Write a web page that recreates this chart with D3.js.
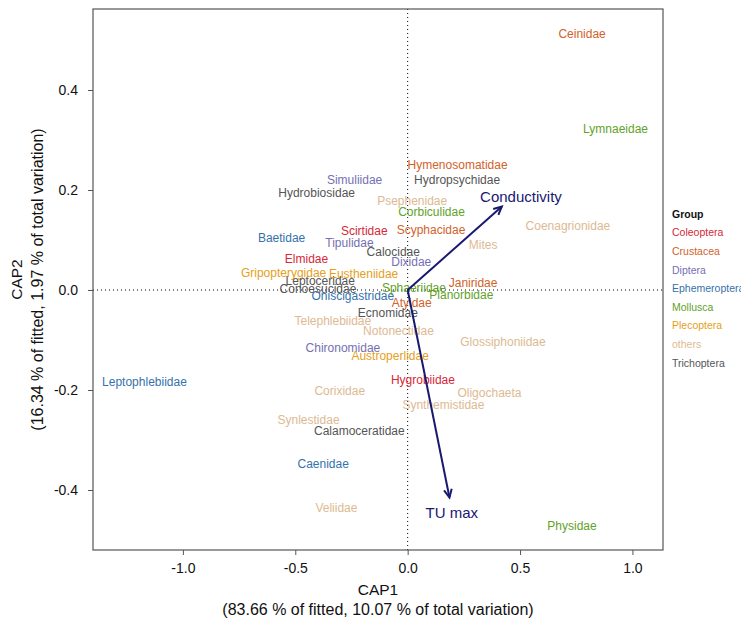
<!DOCTYPE html>
<html>
<head>
<meta charset="utf-8">
<script src="https://cdn.jsdelivr.net/npm/d3@7"></script>
<style>
  body { margin: 0; background: #fff; }
  svg text { font-family: "Liberation Sans", Arial, Helvetica, sans-serif; }
</style>
</head>
<body>
<svg id="chart" width="741" height="623"></svg>
<script>
// Taxon scores on the first two CAP axes
const taxa = [
  "Ceinidae", "Lymnaeidae", "Hymenosomatidae", "Hydropsychidae", "Simuliidae",
  "Hydrobiosidae", "Psephenidae", "Corbiculidae", "Coenagrionidae", "Scirtidae",
  "Scyphacidae", "Baetidae", "Tipulidae", "Mites", "Calocidae",
  "Elmidae", "Dixidae", "Gripopterygidae", "Eustheniidae", "Leptoceridae",
  "Conoesucidae", "Oniscigastridae", "Sphaeriidae", "Janiridae", "Planorbidae",
  "Atyidae", "Ecnomidae", "Telephlebiidae", "Notonectidae", "Glossiphoniidae",
  "Chironomidae", "Austroperlidae", "Leptophlebiidae", "Hygrobiidae", "Corixidae",
  "Oligochaeta", "Synthemistidae", "Synlestidae", "Calamoceratidae", "Caenidae",
  "Veliidae", "Physidae"
];
const taxonGroup = [
  "Crustacea", "Mollusca", "Crustacea", "Trichoptera", "Diptera",
  "Trichoptera", "others", "Mollusca", "others", "Coleoptera",
  "Crustacea", "Ephemeroptera", "Diptera", "others", "Trichoptera",
  "Coleoptera", "Diptera", "Plecoptera", "Plecoptera", "Trichoptera",
  "Trichoptera", "Ephemeroptera", "Mollusca", "Crustacea", "Mollusca",
  "Crustacea", "Trichoptera", "others", "others", "others",
  "Diptera", "Plecoptera", "Ephemeroptera", "Coleoptera", "others",
  "others", "others", "others", "Trichoptera", "Ephemeroptera",
  "others", "Mollusca"
];
const cap1 = [
  0.776, 0.925, 0.222, 0.220, -0.236,
  -0.405, 0.020, 0.106, 0.713, -0.193,
  0.104, -0.561, -0.259, 0.336, -0.064,
  -0.450, 0.016, -0.552, -0.196, -0.389,
  -0.399, -0.244, 0.028, 0.291, 0.239,
  0.018, -0.088, -0.333, -0.041, 0.424,
  -0.288, -0.078, -1.171, 0.068, -0.302,
  0.364, 0.159, -0.441, -0.215, -0.376,
  -0.317, 0.731
];
const cap2 = [
  0.512, 0.322, 0.250, 0.220, 0.221,
  0.195, 0.178, 0.157, 0.128, 0.118,
  0.120, 0.105, 0.095, 0.091, 0.077,
  0.063, 0.057, 0.035, 0.032, 0.019,
  0.003, -0.011, 0.005, 0.015, -0.010,
  -0.025, -0.045, -0.062, -0.081, -0.104,
  -0.115, -0.132, -0.184, -0.179, -0.201,
  -0.205, -0.229, -0.260, -0.282, -0.348,
  -0.435, -0.472
];

// Environmental vectors (arrow tips) and their label positions
const vectorNames = ["Conductivity", "TU max"];
const vectorCap1 = [0.419, 0.186];
const vectorCap2 = [0.167, -0.415];
const vectorLabelCap1 = [0.504, 0.196];
const vectorLabelCap2 = [0.186, -0.445];

// Legend groups and colours
const groupNames = ["Coleoptera", "Crustacea", "Diptera", "Ephemeroptera",
                    "Mollusca", "Plecoptera", "others", "Trichoptera"];
const groupColors = ["#D62839", "#D2622A", "#7570B3", "#3572AD",
                     "#62A229", "#E5A021", "#DDBA92", "#555555"];

const xTicks = [-1.0, -0.5, 0.0, 0.5, 1.0];
const yTicks = [-0.4, -0.2, 0.0, 0.2, 0.4];

const xTitle = ["CAP1", "(83.66 % of fitted, 10.07 % of total variation)"];
const yTitle = ["CAP2", "(16.34 % of fitted, 1.97 % of total variation)"];

const svg = d3.select("#chart");
const panel = { left: 93, top: 9, right: 663, bottom: 550 };

const x = d3.scaleLinear().domain([-1.4, 1.136]).range([panel.left, panel.right]);
const y = d3.scaleLinear().domain([-0.52, 0.562]).range([panel.bottom, panel.top]);
const colorOf = d3.scaleOrdinal().domain(groupNames).range(groupColors);

svg.append("rect").attr("width", 741).attr("height", 623).attr("fill", "#fff");

// Zero reference lines
svg.append("line")
  .attr("x1", x(0)).attr("x2", x(0)).attr("y1", panel.top).attr("y2", panel.bottom)
  .attr("stroke", "#000").attr("stroke-width", 1).attr("stroke-dasharray", "1,3");
svg.append("line")
  .attr("x1", panel.left).attr("x2", panel.right).attr("y1", y(0)).attr("y2", y(0))
  .attr("stroke", "#000").attr("stroke-width", 1).attr("stroke-dasharray", "1,3");

// Axes
const xAxis = svg.append("g")
  .attr("transform", `translate(0,${panel.bottom})`)
  .call(d3.axisBottom(x).tickValues(xTicks).tickFormat(d3.format(".1f")).tickSize(5).tickPadding(8));
const yAxis = svg.append("g")
  .attr("transform", `translate(${panel.left},0)`)
  .call(d3.axisLeft(y).tickValues(yTicks).tickFormat(d3.format(".1f")).tickSize(5).tickPadding(10));
[xAxis, yAxis].forEach(g => {
  g.select(".domain").remove();
  g.selectAll(".tick line").attr("stroke", "#555");
  g.selectAll(".tick text")
    .attr("fill", "#111")
    .style("font-size", "14px")
    .style("font-family", "'Liberation Sans', Arial, Helvetica, sans-serif");
});
xAxis.selectAll(".tick text").text(d => d3.format(".1f")(d).replace("−", "-"));
yAxis.selectAll(".tick text").text(d => d3.format(".1f")(d).replace("−", "-"));

// Panel box
svg.append("rect")
  .attr("x", panel.left).attr("y", panel.top)
  .attr("width", panel.right - panel.left).attr("height", panel.bottom - panel.top)
  .attr("fill", "none").attr("stroke", "#555").attr("stroke-width", 1.2);

// Taxon labels
svg.append("g").selectAll("text")
  .data(taxa.map((t, i) => ({ name: t, group: taxonGroup[i], c1: cap1[i], c2: cap2[i] })))
  .join("text")
  .attr("x", d => x(d.c1))
  .attr("y", d => y(d.c2))
  .attr("dy", "0.36em")
  .attr("text-anchor", "middle")
  .attr("fill", d => colorOf(d.group))
  .style("font-size", "12px")
  .text(d => d.name);

// Vector arrows with open heads
const arrowColor = "#191970";
const ox = x(0), oy = y(0);
const vecG = svg.append("g");
vectorNames.forEach((name, i) => {
  const tx = x(vectorCap1[i]), ty = y(vectorCap2[i]);
  vecG.append("line")
    .attr("x1", ox).attr("y1", oy).attr("x2", tx).attr("y2", ty)
    .attr("stroke", arrowColor).attr("stroke-width", 2);
  const ang = Math.atan2(ty - oy, tx - ox);
  const len = 9, spread = Math.PI / 7;
  const p1 = [tx - len * Math.cos(ang - spread), ty - len * Math.sin(ang - spread)];
  const p2 = [tx - len * Math.cos(ang + spread), ty - len * Math.sin(ang + spread)];
  vecG.append("path")
    .attr("d", `M${p1[0]},${p1[1]}L${tx},${ty}L${p2[0]},${p2[1]}`)
    .attr("fill", "none").attr("stroke", arrowColor).attr("stroke-width", 2)
    .attr("stroke-linejoin", "miter");
  vecG.append("text")
    .attr("x", x(vectorLabelCap1[i])).attr("y", y(vectorLabelCap2[i]))
    .attr("dy", "0.36em").attr("text-anchor", "middle")
    .attr("fill", arrowColor).style("font-size", "15px")
    .text(name);
});

// Axis titles
const midX = (panel.left + panel.right) / 2;
svg.append("text").attr("x", midX).attr("y", 589).attr("dy", "0.36em")
  .attr("text-anchor", "middle").attr("fill", "#111").style("font-size", "15.5px").text(xTitle[0]);
svg.append("text").attr("x", midX).attr("y", 609).attr("dy", "0.36em")
  .attr("text-anchor", "middle").attr("fill", "#111").style("font-size", "16px").text(xTitle[1]);
const midY = (panel.top + panel.bottom) / 2;
svg.append("text").attr("transform", `translate(16,${midY}) rotate(-90)`).attr("dy", "0.36em")
  .attr("text-anchor", "middle").attr("fill", "#111").style("font-size", "15.5px").text(yTitle[0]);
svg.append("text").attr("transform", `translate(37,${midY}) rotate(-90)`).attr("dy", "0.36em")
  .attr("text-anchor", "middle").attr("fill", "#111").style("font-size", "16px").text(yTitle[1]);

// Legend
const legend = svg.append("g").attr("transform", "translate(672,214)");
legend.append("text").attr("dy", "0.36em").attr("fill", "#111")
  .style("font-size", "10.5px").style("font-weight", "bold").text("Group");
legend.selectAll("text.item")
  .data(groupNames)
  .join("text").attr("class", "item")
  .attr("y", (d, i) => 18.6 * (i + 1))
  .attr("dy", "0.36em")
  .attr("fill", d => colorOf(d))
  .style("font-size", "10.5px")
  .text(d => d);
</script>
</body>
</html>
